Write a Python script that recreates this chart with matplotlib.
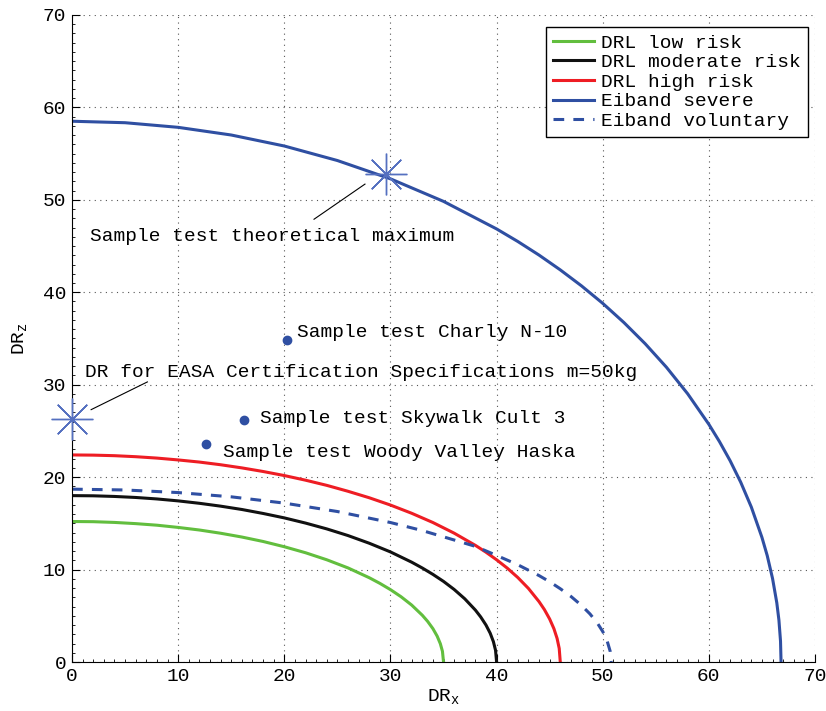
import matplotlib
matplotlib.use('Agg')
import matplotlib.pyplot as plt
from matplotlib.ticker import MultipleLocator

plt.rcParams['font.family'] = ['Liberation Mono', 'DejaVu Sans Mono']
plt.rcParams['mathtext.default'] = 'regular'

# curves (DR_x, DR_z)
low_x = [0, 2, 4, 6, 8, 10, 12, 14, 16, 18, 20, 22, 24, 26, 28, 29, 30, 31, 32, 33, 33.5, 34, 34.4, 34.7, 34.9, 35]
low_y = [15.2, 15.18, 15.1, 14.97, 14.8, 14.56, 14.28, 13.93, 13.52, 13.04, 12.47, 11.82, 11.06, 10.18,
         9.12, 8.51, 7.83, 7.06, 6.16, 5.06, 4.4, 3.61, 2.8, 1.98, 1.15, 0]

mod_x = [0, 2, 4, 6, 8, 10, 12, 14, 16, 18, 20, 22, 24, 26, 28, 30, 32, 33, 34, 35, 36, 37, 38, 38.5, 39,
         39.4, 39.7, 39.9, 40]
mod_y = [18.0, 17.98, 17.91, 17.8, 17.64, 17.43, 17.17, 16.86, 16.5, 16.07, 15.59, 15.03, 14.4, 13.68,
         12.85, 11.91, 10.8, 10.17, 9.48, 8.72, 7.85, 6.84, 5.62, 4.88, 4.0, 3.11, 2.2, 1.27, 0]

high_x = [0, 2, 4, 6, 8, 10, 12, 14, 16, 18, 20, 22, 24, 26, 28, 30, 32, 34, 36, 38, 39, 40, 41, 42, 43,
          44, 44.5, 45, 45.4, 45.7, 45.9, 46]
high_y = [22.4, 22.38, 22.32, 22.21, 22.06, 21.86, 21.63, 21.34, 21.0, 20.61, 20.17, 19.67, 19.11, 18.47,
          17.77, 16.98, 16.09, 15.09, 13.94, 12.62, 11.88, 11.06, 10.16, 9.14, 7.96, 6.53, 5.68, 4.65,
          3.61, 2.55, 1.47, 0]

sev_x = [0, 5, 10, 15, 20, 25, 30, 35, 40, 42, 44, 46, 48, 50, 52, 54, 56, 58, 60, 61, 62, 63, 64, 65,
         65.5, 66, 66.4, 66.6, 66.75, 66.8]
sev_y = [58.5, 58.34, 57.84, 57.01, 55.82, 54.25, 52.27, 49.83, 46.85, 45.49, 44.02, 42.42, 40.69, 38.8,
         36.72, 34.43, 31.89, 29.02, 25.71, 23.84, 21.78, 19.45, 16.76, 13.48, 11.5, 9.03, 6.4, 4.53,
         2.26, 0]

vol_x = [0, 5, 10, 15, 20, 25, 30, 33, 36, 38, 40, 42, 44, 45, 46, 47, 48, 48.8, 49.5, 50, 50.4, 50.7, 50.8]
vol_y = [18.7, 18.61, 18.33, 17.87, 17.19, 16.28, 15.09, 14.22, 13.2, 12.51, 11.53, 10.52, 9.35, 8.68,
         7.93, 7.1, 6.12, 5.2, 4.2, 3.3, 2.34, 1.17, 0]

# sample tests
tests_x = [20.3, 16.2, 12.6]
tests_y = [34.8, 26.2, 23.6]
tests_lbl = ['Sample test Charly N-10', 'Sample test Skywalk Cult 3', 'Sample test Woody Valley Haska']
tests_txt = [(21.2, 35.6), (17.7, 26.3), (14.2, 22.7)]

theo = (29.6, 52.8)
easa = (0, 26.3)

blue = '#2F4FA2'
fig = plt.figure(figsize=(8.26, 7.11), dpi=100)
ax = fig.add_axes([0.0872, 0.0689, 0.8995, 0.9101])

ax.plot(low_x, low_y, color='#62BE3E', lw=2.2, label='DRL low risk')
ax.plot(mod_x, mod_y, color='#111111', lw=2.2, label='DRL moderate risk')
ax.plot(high_x, high_y, color='#EE1D24', lw=2.2, label='DRL high risk')
ax.plot(sev_x, sev_y, color=blue, lw=2.2, label='Eiband severe')
ax.plot(vol_x, vol_y, color=blue, lw=2.2, ls=(0, (3.5, 3.0)), label='Eiband voluntary')

ax.plot(tests_x, tests_y, 'o', color=blue, ms=6, zorder=5)
for (tx, ty), s in zip(tests_txt, tests_lbl):
    ax.text(tx, ty, s, fontsize=14, va='center', ha='left')

ax.plot([theo[0]], [theo[1]], marker=(8, 2, 0), color='#5570C0', ms=30, mew=1, clip_on=False)
ax.plot([easa[0]], [easa[1]], marker=(8, 2, 0), color='#5570C0', ms=30, mew=1, clip_on=False, zorder=6)

ax.plot([22.8, 27.6], [47.9, 51.7], color='k', lw=0.8)
ax.text(1.7, 46.0, 'Sample test theoretical maximum', fontsize=14, va='center', ha='left')
ax.plot([1.8, 7.1], [27.3, 30.3], color='k', lw=0.8)
ax.text(1.2, 31.3, 'DR for EASA Certification Specifications m=50kg', fontsize=14, va='center', ha='left')

ax.set_xlim(0, 70)
ax.set_ylim(0, 70)
ax.xaxis.set_major_locator(MultipleLocator(10))
ax.yaxis.set_major_locator(MultipleLocator(10))
ax.xaxis.set_minor_locator(MultipleLocator(1))
ax.yaxis.set_minor_locator(MultipleLocator(1))
ax.tick_params(which='major', direction='in', length=6, labelsize=14, pad=4)
ax.tick_params(which='minor', direction='in', length=2.5)
ax.grid(True, which='major', color='#555555', ls=(0, (1, 4)), lw=0.8)
ax.spines['top'].set_visible(False)
ax.spines['right'].set_visible(False)

ax.set_xlabel('DR$_x$', fontsize=14, labelpad=2)
ax.set_ylabel('DR$_z$', fontsize=14, labelpad=10)

leg = ax.legend(loc='upper right', bbox_to_anchor=(0.9906, 0.981), borderaxespad=0, fontsize=14,
                handlelength=2.1, handletextpad=0.4, labelspacing=0.1, borderpad=0.35,
                fancybox=False, framealpha=1)
leg.get_frame().set_edgecolor('k')
leg.get_frame().set_linewidth(1.0)

fig.savefig('out.png', dpi=100)
